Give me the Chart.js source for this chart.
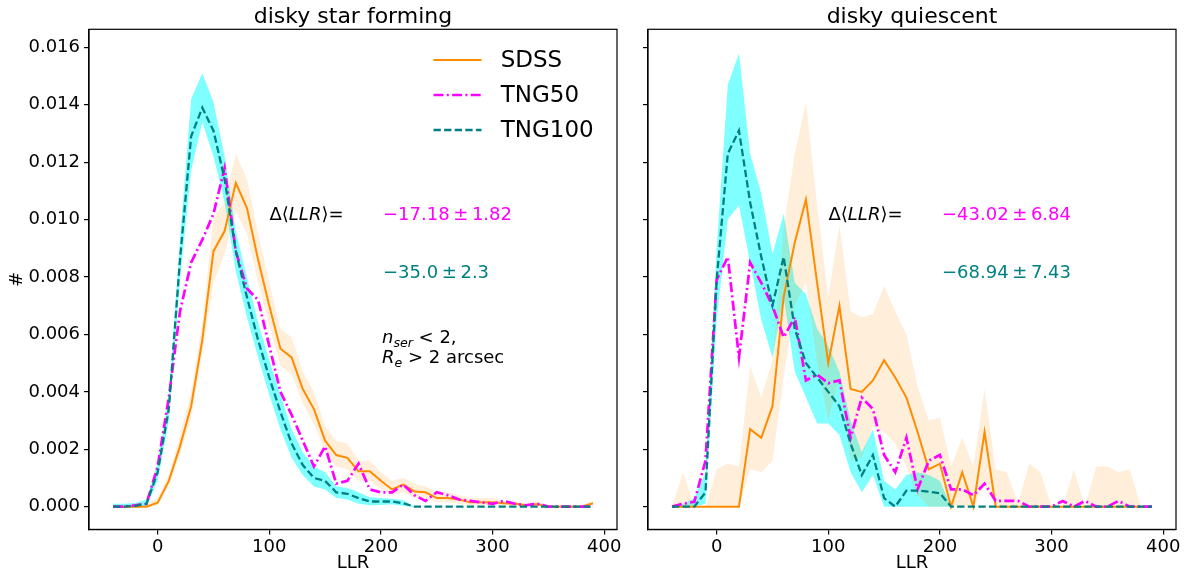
<!DOCTYPE html>
<html><head><meta charset="utf-8">
<script src="https://cdn.jsdelivr.net/npm/chart.js@4.4.1/dist/chart.umd.min.js"></script>
<style>
html,body{margin:0;padding:0;background:#fff;}
#wrap{position:relative;width:1189px;height:574px;overflow:hidden;}
canvas{position:absolute;left:0;top:0;}
</style></head><body>
<div id="wrap"><canvas id="c1" width="1189" height="574"></canvas><canvas id="c2" width="1189" height="574"></canvas></div>
<script>
// ---------- DATA ----------
const llrBins = [-40,-30,-20,-10,0,10,20,30,40,50,60,70,80,90,100,110,120,130,140,150,160,170,180,190,200,210,220,230,240,250,260,270,280,290,300,310,320,330,340,350,360,370,380,390];
const xTicks = [0,100,200,300,400];
const yTicks = [0,0.002,0.004,0.006,0.008,0.010,0.012,0.014,0.016];

// disky star forming
const sfSdss   = [0,0,0,0,0.00014,0.0009,0.0021,0.0035,0.0058,0.0089,0.0096,0.01128,0.0104,0.0086,0.0070,0.0055,0.0052,0.0041,0.0034,0.0023,0.0018,0.0017,0.00123,0.00123,0.0009,0.0006,0.00077,0.00053,0.0005,0.0003,0.0003,0.00025,0.00015,0.00015,0.00015,0.00012,0.0001,0.00005,0.00008,0,0,0,0,0.00012];
const sfSdssHi = [0,0,0,0.0001,0.0003,0.0011,0.0025,0.0040,0.0064,0.0101,0.0106,0.0123,0.0114,0.0095,0.0078,0.0062,0.0059,0.0047,0.0040,0.0028,0.0023,0.0022,0.0016,0.0016,0.0012,0.0009,0.0010,0.0008,0.0007,0.0005,0.0005,0.0004,0.0003,0.0003,0.0003,0.0002,0.0002,0.0001,0.0002,0.00005,0.00005,0.00005,0.00005,0.0002];
const sfSdssLo = [0,0,0,0,0.00005,0.0007,0.0018,0.0031,0.0053,0.0078,0.0088,0.0103,0.0095,0.0078,0.0063,0.0049,0.0046,0.0036,0.0029,0.0019,0.0014,0.0013,0.0009,0.0009,0.0006,0.0004,0.0005,0.0003,0.0003,0.00015,0.00015,0.0001,0.00005,0.00005,0.00005,0.00005,0.00005,0,0.00005,0,0,0,0,0.00005];
const sfT50    = [0,0,0.00005,0.0001,0.0014,0.0038,0.0068,0.0085,0.0093,0.0102,0.0118,0.0089,0.0076,0.0072,0.0056,0.0040,0.0032,0.0023,0.0014,0.0021,0.0008,0.0009,0.0015,0.0006,0.0005,0.0005,0.00077,0.0004,0.0002,0.0005,0.0004,0.00025,0.0002,0.00015,0.0001,0.0002,0.0001,0.00005,0.0001,0,0,0,0,0];
const sfT100   = [0,0,0.00003,0.0001,0.0012,0.0034,0.0086,0.0129,0.0139,0.0131,0.0114,0.0089,0.0073,0.0058,0.0045,0.0033,0.0022,0.00145,0.0010,0.0009,0.0005,0.00045,0.0003,0.00018,0.00018,0.00018,0.00012,0,0,0,0,0,0,0,0,0,0,0,0,0,0,0,0,0];
const sfT100Hi = [0.0001,0.0001,0.00013,0.00025,0.0015,0.0038,0.0093,0.0142,0.0151,0.0141,0.0122,0.0096,0.0080,0.0064,0.0051,0.0039,0.0027,0.0019,0.0014,0.0012,0.0007,0.00065,0.0005,0.00033,0.0003,0.00028,0.00022,0,0,0,0,0,0,0,0,0,0,0,0,0,0,0,0,0];
const sfT100Lo = [-0.00005,-0.00005,-0.00005,0,0.0009,0.0030,0.0079,0.0117,0.0134,0.0122,0.0106,0.0082,0.0066,0.0052,0.0039,0.0027,0.0017,0.0011,0.0007,0.0006,0.0003,0.00025,0.0001,0.00005,0.00006,0.00008,0.00002,0,0,0,0,0,0,0,0,0,0,0,0,0,0,0,0,0];

// disky quiescent
const qSdss    = [0,0,0,0,0,0,0,0.0027,0.0024,0.0035,0.0073,0.0092,0.0107,0.0078,0.0050,0.0070,0.0041,0.0040,0.0044,0.0051,0.0045,0.0038,0.0026,0.0013,0.0015,0,0.0012,0,0.0026,0,0,0,0,0,0,0,0,0,0,0,0,0,0,0];
const qSdssHi  = [0,0.0012,0,0,0.0013,0.0015,0.0014,0.0049,0.0038,0.0051,0.0097,0.0123,0.0141,0.0105,0.0073,0.0098,0.0068,0.0066,0.0067,0.0077,0.0068,0.0060,0.0042,0.0030,0.0031,0.0014,0.0024,0.0014,0.0041,0.0013,0.0012,0.0001,0.0015,0.0012,0,0,0.0013,0,0.0014,0.0014,0.0012,0.0013,0,0];
const qSdssLo  = [0,0,0,0,0,0,0,0.0013,0.0012,0.0016,0.0045,0.0070,0.0078,0.0050,0.0030,0.0045,0.0016,0.0017,0.0028,0.0026,0.0022,0.0014,0.0004,0,0,0,0,0,0.0008,0,0,0,0,0,0,0,0,0,0,0,0,0,0,0];
const qT50     = [0,0.0001,0.00017,0.0016,0.0079,0.0087,0.0052,0.0085,0.0078,0.0070,0.0059,0.0066,0.0044,0.0046,0.0043,0.0044,0.0024,0.0038,0.0034,0.0018,0.0012,0.0024,0.0006,0.0016,0.0018,0.0006,0.0006,0.0004,0.0008,0.0002,0.0002,0.0002,0,0,0,0.0002,0,0.0002,0,0,0.0002,0,0,0];
const qT100    = [0,0,0,0.0005,0.0079,0.0123,0.0131,0.0106,0.0087,0.0070,0.0087,0.0062,0.0050,0.0045,0.0040,0.0035,0.0022,0.0011,0.0018,0.0003,0,0.00056,0.00056,0.00052,0.00047,0,0,0,0,0,0,0,0,0,0,0,0,0,0,0,0,0,0,0];
const qT100Hi  = [0,0.0001,0.0003,0.0012,0.0090,0.0147,0.0158,0.0123,0.0109,0.0088,0.0102,0.0078,0.0074,0.0062,0.0056,0.0047,0.0030,0.0019,0.0027,0.0009,0.0006,0.0011,0.0012,0.0011,0.0009,0,0,0,0,0,0,0,0,0,0,0,0,0,0,0,0,0,0,0];
const qT100Lo  = [0,0,0,0.0001,0.0065,0.0100,0.0105,0.0085,0.0065,0.0052,0.0073,0.0047,0.0038,0.0029,0.0029,0.0025,0.0012,0.0005,0.0011,0,0,0,0,0,0,0,0,0,0,0,0,0,0,0,0,0,0,0,0,0,0,0,0,0];

const seriesNames = ['SDSS','TNG50','TNG100'];
const panelTitles = ['disky star forming','disky quiescent'];
const deltaTNG50  = ['\u221217.18\u2009\u00b1\u20091.82','\u221243.02\u2009\u00b1\u20096.84'];
const deltaTNG100 = ['\u221235.0\u2009\u00b1\u20092.3','\u221268.94\u2009\u00b1\u20097.43'];

// ---------- STYLE / LAYOUT ----------
const FONT = "'DejaVu Sans', sans-serif";
const W = 1189, H = 574;
const TOP = 29.3, BOTTOM = 529.4;
const X_MIN = -61.5, X_MAX = 411.5, Y_MIN = -0.000792, Y_MAX = 0.01663;
const C_ORANGE = '#ff8c00', C_MAG = '#ff00ff', C_TEAL = '#008080';
const LW_SDSS = 2, LW_T50 = 2.7, LW_T100 = 2.3;
const DASH_T50 = [10,3.3,2,3.3], DASH_T100 = [7.3,3.3];

function pts(arr){ return llrBins.map((x,i)=>({x:x, y:arr[i]})); }

function runs(ctx, x, y, list, size){
  let cx = x;
  for (const r of list){
    const s = r.sub ? size*0.7 : size;
    ctx.font = (r.it ? 'italic ' : '') + s + 'px ' + FONT;
    ctx.fillStyle = r.c || '#000';
    ctx.fillText(r.t, cx, y + (r.sub ? size*0.22 : 0));
    cx += ctx.measureText(r.t).width;
  }
}

function makeChart(id, p){
  const datasets = [
    {data:pts(p.t100), borderColor:C_TEAL, borderWidth:LW_T100, borderDash:DASH_T100, pointRadius:0, fill:false, order:0},
    {data:pts(p.t50), borderColor:C_MAG, borderWidth:LW_T50, borderDash:DASH_T50, pointRadius:0, fill:false, order:1},
    {data:pts(p.sdss), borderColor:C_ORANGE, borderWidth:LW_SDSS, pointRadius:0, fill:false, order:2},
    {data:pts(p.sdssHi), borderColor:'rgba(0,0,0,0)', borderWidth:0, pointRadius:0, backgroundColor:'rgba(255,140,0,0.15)', fill:'+1', order:3},
    {data:pts(p.sdssLo), borderColor:'rgba(0,0,0,0)', borderWidth:0, pointRadius:0, fill:false, order:3},
    {data:pts(p.t100Hi), borderColor:'rgba(0,0,0,0)', borderWidth:0, pointRadius:0, backgroundColor:'rgba(0,255,255,0.5)', fill:'+1', order:4},
    {data:pts(p.t100Lo), borderColor:'rgba(0,0,0,0)', borderWidth:0, pointRadius:0, fill:false, order:4}
  ];
  const overlay = {
    id:'overlay'+id,
    afterDatasetsDraw(chart){
      const ctx = chart.ctx, a = chart.chartArea;
      ctx.save();
      ctx.strokeStyle = '#000'; ctx.lineWidth = 1.2; ctx.setLineDash([]);
      ctx.strokeRect(a.left, a.top, a.right - a.left, a.bottom - a.top);
      ctx.restore();
    },
    afterDraw(chart){
      const ctx = chart.ctx, a = chart.chartArea;
      const cx = (a.left + a.right)/2;
      ctx.save();
      ctx.textBaseline = 'alphabetic';
      ctx.fillStyle = '#000';
      ctx.textAlign = 'center';
      ctx.font = '22px ' + FONT;
      ctx.fillText(p.title, cx, 23);
      ctx.font = '18px ' + FONT;
      ctx.textBaseline = 'middle';
      ctx.fillText('LLR', cx, 563);
      if (p.first){
        ctx.save();
        ctx.translate(17, (a.top + a.bottom)/2);
        ctx.rotate(-Math.PI/2);
        ctx.fillText('#', 0, 0);
        ctx.restore();
      }
      ctx.textAlign = 'left';
      ctx.textBaseline = 'alphabetic';
      const L = a.left;
      runs(ctx, L + 180.5, 219.5, [{t:'\u0394\u27e8'},{t:'LLR', it:true},{t:'\u27e9='}], 18);
      runs(ctx, L + 294, 219.5, [{t:p.d50, c:C_MAG}], 18);
      runs(ctx, L + 294, 277.5, [{t:p.d100, c:C_TEAL}], 18);
      if (p.first){
        runs(ctx, L + 293, 343, [{t:'n', it:true},{t:'ser', it:true, sub:true},{t:' < 2,'}], 18);
        runs(ctx, L + 293, 363, [{t:'R', it:true},{t:'e', it:true, sub:true},{t:' > 2 arcsec'}], 18);
        // legend
        const items = [
          {n:seriesNames[0], c:C_ORANGE, d:[], w:LW_SDSS},
          {n:seriesNames[1], c:C_MAG, d:DASH_T50, w:LW_T50},
          {n:seriesNames[2], c:C_TEAL, d:DASH_T100, w:LW_T100}
        ];
        items.forEach((it,i)=>{
          const y = 60 + 35*i;
          ctx.beginPath();
          ctx.strokeStyle = it.c; ctx.lineWidth = it.w; ctx.setLineDash(it.d);
          ctx.moveTo(433.5, y); ctx.lineTo(481.5, y); ctx.stroke();
          ctx.setLineDash([]);
          ctx.fillStyle = '#000';
          ctx.font = '23px ' + FONT;
          ctx.textBaseline = 'middle';
          ctx.fillText(it.n, 500.7, y + 1);
        });
      }
      ctx.restore();
    }
  };
  return new Chart(document.getElementById(id), {
    type:'line',
    data:{datasets:datasets},
    options:{
      responsive:false, animation:false, devicePixelRatio:1,
      layout:{padding:{left:0, top:TOP, right:p.padRight, bottom:0}},
      plugins:{legend:{display:false}, tooltip:{enabled:false}, title:{display:false}},
      elements:{line:{tension:0}},
      scales:{
        x:{type:'linear', min:X_MIN, max:X_MAX,
          afterBuildTicks:s=>{ s.ticks = xTicks.map(v=>({value:v})); },
          afterFit:s=>{ s.height = H - BOTTOM; s.paddingLeft = 0; s.paddingRight = 0; },
          grid:{display:true, drawOnChartArea:false, drawTicks:true, tickLength:5, color:'#000', lineWidth:1.2},
          border:{display:true, color:'#000', width:1.2},
          ticks:{font:{family:FONT, size:18}, color:'#000', padding:2, maxRotation:0, autoSkip:false, callback:v=>String(v)}
        },
        y:{type:'linear', min:Y_MIN, max:Y_MAX,
          afterBuildTicks:s=>{ s.ticks = yTicks.map(v=>({value:v})); },
          afterFit:s=>{ s.width = p.axisW; s.paddingTop = 0; s.paddingBottom = 0; },
          grid:{display:true, drawOnChartArea:false, drawTicks:true, tickLength:5, color:'#000', lineWidth:1.2},
          border:{display:true, color:'#000', width:1.2},
          ticks:{font:{family:FONT, size:18}, color:'#000', padding:4, autoSkip:false, callback:v=> p.first ? v.toFixed(3) : ''}
        }
      }
    },
    plugins:[overlay]
  });
}

makeChart('c1', {first:true, title:panelTitles[0], axisW:89, padRight:W-617,
  sdss:sfSdss, sdssHi:sfSdssHi, sdssLo:sfSdssLo, t50:sfT50, t100:sfT100, t100Hi:sfT100Hi, t100Lo:sfT100Lo,
  d50:deltaTNG50[0], d100:deltaTNG100[0]});
makeChart('c2', {first:false, title:panelTitles[1], axisW:648, padRight:W-1176,
  sdss:qSdss, sdssHi:qSdssHi, sdssLo:qSdssLo, t50:qT50, t100:qT100, t100Hi:qT100Hi, t100Lo:qT100Lo,
  d50:deltaTNG50[1], d100:deltaTNG100[1]});
</script>
</body></html>
